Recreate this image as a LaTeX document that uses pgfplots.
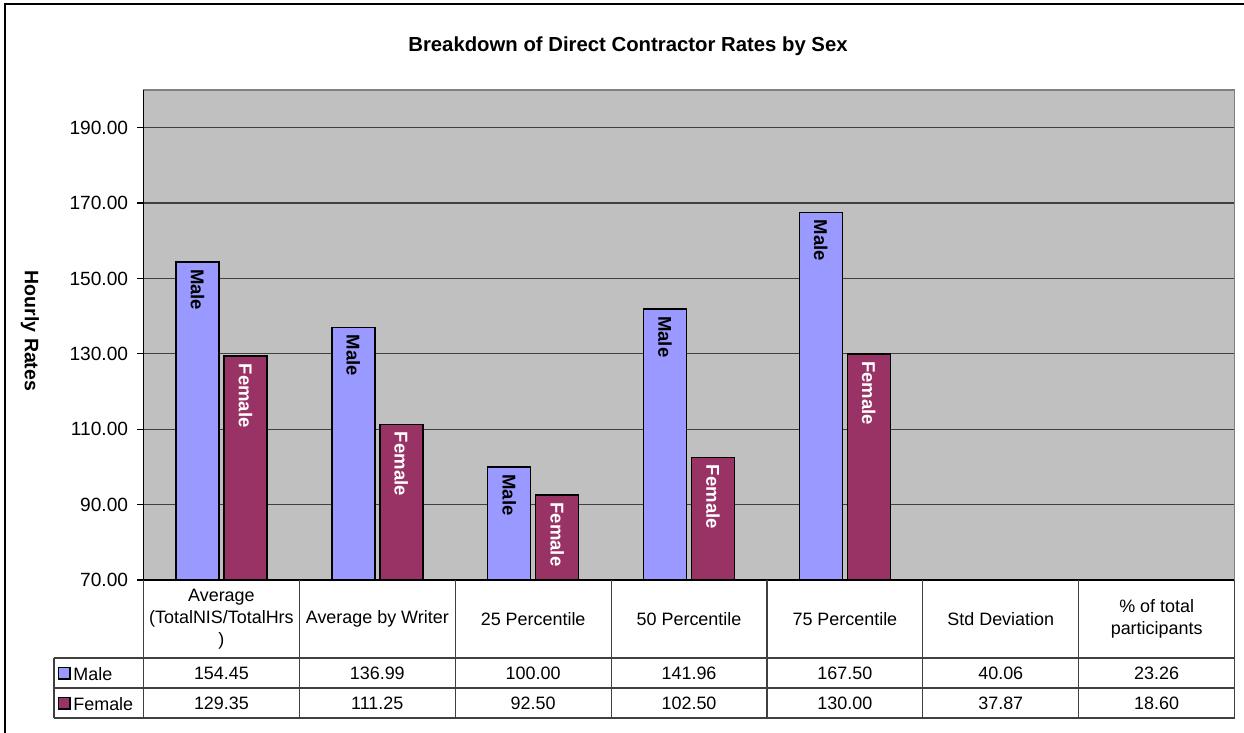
\documentclass[border=0pt]{standalone}
\usepackage{pgfplots}
\pgfplotsset{compat=1.18}
\usepackage{pgfplotstable}
\usepackage{fontspec}
\setmainfont{Liberation Sans}
\definecolor{malecol}{HTML}{9999FF}
\definecolor{femcol}{HTML}{993366}
\definecolor{plotbg}{HTML}{C0C0C0}
\definecolor{bordergray}{HTML}{808080}
\pgfkeys{/pgf/number format/assume math mode=true}
\pgfplotstableread{
idx male female
0 154.45 129.35
1 136.99 111.25
2 100.00 92.50
3 141.96 102.50
4 167.50 130.00
5 40.06 37.87
6 23.26 18.60
}\data
\newcommand\fs{\fontsize{9}{11}\selectfont}
\begin{document}
\begin{tikzpicture}
\useasboundingbox (0,0) rectangle (622bp,-366.5bp);
\begin{axis}[
  at={(71.75bp,-290bp)}, anchor=south west,
  scale only axis, width=545.5bp, height=245bp,
  xmin=-0.5, xmax=6.5, ymin=70, ymax=200,
  xtick=\empty, ytick={70,90,...,190}, ytick pos=left,
  tick align=outside, major tick length=3bp,
  tick style={black, line width=0.6bp},
  ymajorgrids, major grid style={black!75, line width=0.6bp},
  axis background/.style={fill=plotbg},
  axis line style={bordergray, line width=0.75bp},
  clip mode=individual,
  yticklabel style={font=\fontsize{9.6}{11}\selectfont, xshift=-1.2bp, /pgf/number format/fixed, /pgf/number format/fixed zerofill, /pgf/number format/precision=2},
  bar width=21.5bp,
]
\addplot[ybar, fill=malecol, draw=black, line width=0.85bp, bar shift=-12bp] table[x=idx, y=male] {\data};
\addplot[ybar, fill=femcol, draw=black, line width=0.85bp, bar shift=12bp] table[x=idx, y=female] {\data};
\addplot[draw=none, mark=none, restrict y to domain=70:200,
  nodes near coords={Male},
  every node near coord/.append style={xshift=-12bp, rotate=-90, anchor=west, font=\bfseries\fontsize{9.3}{11}\selectfont, text=black, inner xsep=3.5bp}]
  table[x=idx, y=male] {\data};
\addplot[draw=none, mark=none, restrict y to domain=70:200,
  nodes near coords={Female},
  every node near coord/.append style={xshift=12bp, rotate=-90, anchor=west, font=\bfseries\fontsize{9.3}{11}\selectfont, text=white, inner xsep=3.5bp}]
  table[x=idx, y=female] {\data};
\draw[black, line width=0.75bp] (rel axis cs:0,1) -- (rel axis cs:0,0) -- (rel axis cs:1,0);
\end{axis}
% title and y label
\node[font=\bfseries\fontsize{10.2}{12}\selectfont] at (314bp,-23bp) {Breakdown of Direct Contractor Rates by Sex};
\node[font=\bfseries\fontsize{9.8}{12}\selectfont, rotate=-90] at (15bp,-165.5bp) {Hourly Rates};
\begin{scope}[x=0.5bp, y=-0.5bp]
  % outer frame
  \draw[black, line width=0.8bp] (5,740) -- (5,4) -- (1250,4);
  % table grid
  \begin{scope}[black!75, line width=0.6bp]
    \foreach \i in {0,...,7} {
      \pgfmathsetmacro\xx{143.5+155.87*\i}
      \draw (\xx,580) -- (\xx,718);
    }
    \draw (54,658) -- (1234.6,658);
    \draw (54,688) -- (1234.6,688);
    \draw (54,718) -- (1234.6,718);
    \draw (54,658) -- (54,718);
  \end{scope}
  % category labels
  \foreach \lab [count=\c from 0] in {{Average\\(TotalNIS/TotalHrs\\)},{Average by Writer},{25 Percentile},{50 Percentile},{75 Percentile},{Std Deviation},{\% of total\\participants}} {
    \pgfmathsetmacro\xx{143.5+155.87*(\c+0.5)}
    \node[font=\fs, align=center, inner sep=0pt] at (\xx,619) {\lab};
  }
  % values
  \foreach \r in {0,...,6} {
    \pgfmathsetmacro\xx{143.5+155.87*(\r+0.5)}
    \pgfplotstablegetelem{\r}{male}\of\data
    \node[font=\fs, inner sep=0pt] at (\xx,673.5) {\pgfmathprintnumber[fixed,fixed zerofill,precision=2]{\pgfplotsretval}};
    \pgfplotstablegetelem{\r}{female}\of\data
    \node[font=\fs, inner sep=0pt] at (\xx,703.5) {\pgfmathprintnumber[fixed,fixed zerofill,precision=2]{\pgfplotsretval}};
  }
  % legend keys
  \draw[fill=malecol, draw=black, line width=0.6bp] (58.5,667.5) rectangle (70,679);
  \node[font=\fs, anchor=west, inner sep=0pt] at (73,674) {Male};
  \draw[fill=femcol, draw=black, line width=0.6bp] (58.5,697.5) rectangle (70,709);
  \node[font=\fs, anchor=west, inner sep=0pt] at (73,704) {Female};
\end{scope}
\end{tikzpicture}
\end{document}
